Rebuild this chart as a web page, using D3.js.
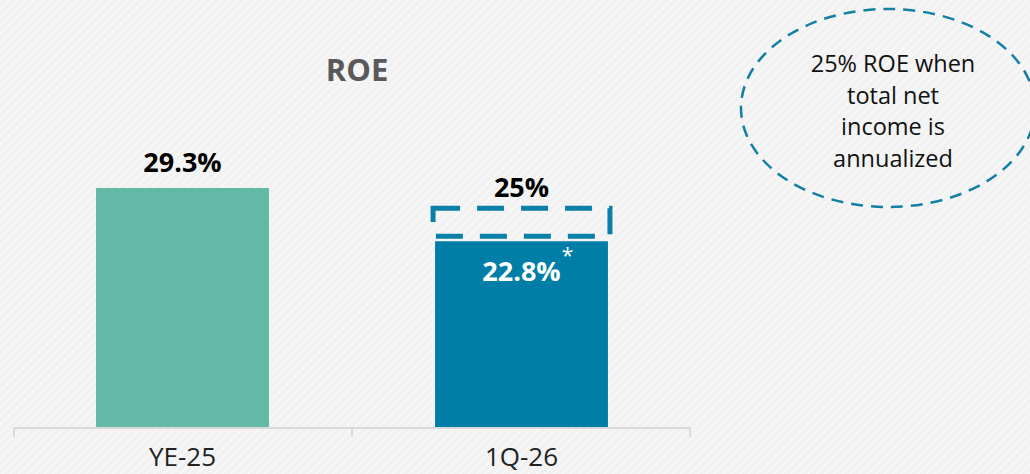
<!DOCTYPE html>
<html>
<head>
<meta charset="utf-8">
<script src="https://cdn.jsdelivr.net/npm/d3@7"></script>
<style>
  body { margin: 0; background: #f3f3f3; }
  svg { display: block; font-family: "Open Sans", "Noto Sans", sans-serif; }
</style>
</head>
<body>
<script>
var categories = ["YE-25", "1Q-26"];
var roeValues = [29.3, 22.8];
var roeLabels = ["29.3%", "22.8%"];
var annualizedValue = 25;
var annualizedLabel = "25%";
var barColors = ["#62b9a6", "#007ea7"];
var noteLines = ["25% ROE when", "total net", "income is", "annualized"];

var width = 1030, height = 474;
var svg = d3.select("body").append("svg")
    .attr("width", width)
    .attr("height", height);

// faint diagonal hatch background
var defs = svg.append("defs");
var pat = defs.append("pattern")
    .attr("id", "hatch")
    .attr("width", 6).attr("height", 6)
    .attr("patternUnits", "userSpaceOnUse")
    .attr("patternTransform", "rotate(45)");
pat.append("rect").attr("width", 6).attr("height", 6).attr("fill", "#f2f2f2");
pat.append("line").attr("x1", 0).attr("y1", 0).attr("x2", 0).attr("y2", 6)
    .attr("stroke", "#fbfbfb").attr("stroke-width", 2);
svg.append("rect").attr("width", width).attr("height", height).attr("fill", "url(#hatch)");

var x = d3.scaleBand().domain(categories).range([14, 690])
    .paddingInner(0.49).paddingOuter(0.242);
var y = d3.scaleLinear().domain([0, 29.3]).range([428, 188]);

// title
svg.append("text")
    .attr("x", 357).attr("y", 81)
    .attr("text-anchor", "middle")
    .attr("font-size", 31).attr("font-weight", "bold")
    .attr("fill", "#595959")
    .text("ROE");

// bars
svg.selectAll("rect.bar")
    .data(roeValues)
    .enter()
    .append("rect")
    .attr("class", "bar")
    .attr("x", function (d, i) { return x(categories[i]); })
    .attr("y", function (d) { return y(d); })
    .attr("width", x.bandwidth())
    .attr("height", function (d) { return y(0) - y(d); })
    .attr("fill", function (d, i) { return barColors[i]; });

// YE-25 value label above the bar
svg.append("text")
    .attr("x", x(categories[0]) + x.bandwidth() / 2)
    .attr("y", y(roeValues[0]) - 16)
    .attr("text-anchor", "middle")
    .attr("font-size", 27).attr("font-weight", "bold")
    .attr("fill", "#000")
    .text(roeLabels[0]);

// 1Q-26 value inside bar + asterisk
var cx2 = x(categories[1]) + x.bandwidth() / 2;
svg.append("text")
    .attr("x", cx2).attr("y", y(roeValues[1]) + 40)
    .attr("text-anchor", "middle")
    .attr("font-size", 27).attr("font-weight", "bold")
    .attr("fill", "#fff")
    .text(roeLabels[1]);
svg.append("text")
    .attr("x", cx2 + 46).attr("y", y(roeValues[1]) + 22)
    .attr("text-anchor", "middle")
    .attr("font-size", 21)
    .attr("fill", "#fff")
    .text("*");

// dashed annualized box
var boxTop = y(annualizedValue) - 15;
var boxBottom = y(roeValues[1]) - 5;
svg.append("rect")
    .attr("x", x(categories[1]) - 2)
    .attr("y", boxTop)
    .attr("width", x.bandwidth() + 4)
    .attr("height", boxBottom - boxTop)
    .attr("fill", "none")
    .attr("stroke", "#0a7fa7")
    .attr("stroke-width", 5)
    .attr("stroke-dasharray", "27,17");
svg.append("text")
    .attr("x", cx2).attr("y", boxTop - 11)
    .attr("text-anchor", "middle")
    .attr("font-size", 27).attr("font-weight", "bold")
    .attr("fill", "#000")
    .text(annualizedLabel);

// x axis
var axisG = svg.append("g").attr("transform", "translate(0,428)");
axisG.append("line")
    .attr("x1", x.range()[0]).attr("x2", x.range()[1])
    .attr("stroke", "#d9d9d9").attr("stroke-width", 2);
var bounds = [x.range()[0], (x.range()[0] + x.range()[1]) / 2, x.range()[1]];
axisG.selectAll("line.tick")
    .data(bounds)
    .enter()
    .append("line")
    .attr("class", "tick")
    .attr("x1", function (d) { return d; }).attr("x2", function (d) { return d; })
    .attr("y1", 0).attr("y2", 9)
    .attr("stroke", "#d9d9d9").attr("stroke-width", 2);
var labelAxis = d3.axisBottom(x).tickSize(0).tickPadding(20);
var la = axisG.append("g").call(labelAxis);
la.select(".domain").remove();
la.selectAll("text")
    .attr("font-size", 26)
    .attr("font-family", "\"Open Sans\", \"Noto Sans\", sans-serif")
    .attr("fill", "#222");

// note ellipse
svg.append("ellipse")
    .attr("cx", 888).attr("cy", 108)
    .attr("rx", 147).attr("ry", 99)
    .attr("fill", "none")
    .attr("stroke", "#137fa5")
    .attr("stroke-width", 2.5)
    .attr("stroke-dasharray", "12,8");
svg.append("g").selectAll("text")
    .data(noteLines)
    .enter()
    .append("text")
    .attr("x", 893)
    .attr("y", function (d, i) { return 72 + i * 31.5; })
    .attr("text-anchor", "middle")
    .attr("font-size", 23.5)
    .attr("fill", "#111")
    .text(function (d) { return d; });
</script>
</body>
</html>
